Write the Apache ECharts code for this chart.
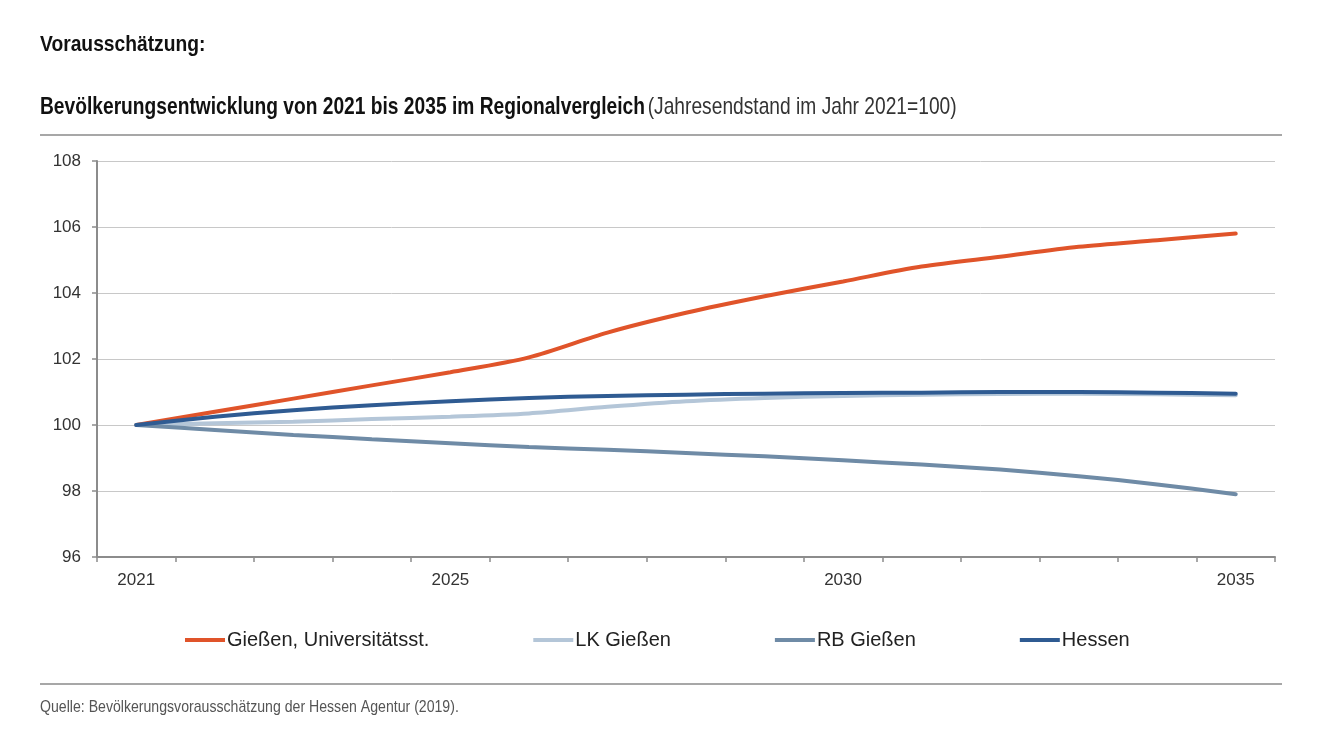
<!DOCTYPE html>
<html><head><meta charset="utf-8">
<script src="https://cdn.jsdelivr.net/npm/echarts@6/dist/echarts.min.js"></script>
<style>html,body{margin:0;padding:0;background:#fff}#c{width:1344px;height:744px}</style>
</head><body><div id="c"></div>
<script>
const years = ['2021','2022','2023','2024','2025','2026','2027','2028','2029','2030','2031','2032','2033','2034','2035'];
const labelYears = ['2021','2025','2030','2035'];
const giessenStadt = [100,100.4,100.8,101.2,101.6,102.05,102.8,103.4,103.9,104.35,104.8,105.1,105.4,105.6,105.8];
const lkGiessen   = [100,100.05,100.1,100.18,100.25,100.35,100.55,100.72,100.82,100.88,100.92,100.94,100.95,100.93,100.9];
const rbGiessen   = [100,99.85,99.7,99.57,99.45,99.33,99.25,99.15,99.05,98.93,98.8,98.65,98.45,98.2,97.9];
const hessen      = [100,100.25,100.45,100.6,100.72,100.82,100.88,100.92,100.95,100.97,100.98,101.0,101.0,100.98,100.95];

const F = '"Liberation Sans", Arial, sans-serif';
const chart = echarts.init(document.getElementById('c'));
function line(name, data, color){
  return {name, type:'line', data, smooth:0.3, symbol:'none', lineStyle:{width:4, color, cap:'round'}, itemStyle:{color}};
}
chart.setOption({
  animation:false,
  backgroundColor:'#fff',
  graphic:[
    {type:'text', x:40, y:45, scaleX:0.875, style:{text:'Vorausschätzung:', font:'bold 22px '+F, fill:'#111', verticalAlign:'middle'}},
    {type:'text', x:40, y:107, scaleX:0.80, style:{
      text:'{b|Bevölkerungsentwicklung von 2021 bis 2035 im Regionalvergleich} {n|(Jahresendstand im Jahr 2021=100)}',
      verticalAlign:'middle',
      rich:{b:{font:'bold 24px '+F, fill:'#111'}, n:{font:'24px '+F, fill:'#333'}}}},
    {type:'line', shape:{x1:40,y1:135,x2:1282,y2:135}, style:{stroke:'#8a8a8a', lineWidth:1.5}},
    {type:'line', shape:{x1:40,y1:684,x2:1282,y2:684}, style:{stroke:'#8a8a8a', lineWidth:1.5}},
    {type:'text', x:40, y:707, scaleX:0.83, style:{text:'Quelle: Bevölkerungsvorausschätzung der Hessen Agentur (2019).', font:'17px '+F, fill:'#555', verticalAlign:'middle'}}
  ],
  grid:{left:97, right:69, top:161, bottom:187},
  legend:{
    top:625, left:180, itemGap:104, itemWidth:40, itemHeight:4, icon:'rect',
    textStyle:{fontFamily:F, fontSize:20, color:'#222', padding:[0,0,0,-3]},
    data:['Gießen, Universitätsst.','LK Gießen','RB Gießen','Hessen']
  },
  xAxis:{
    type:'category', data:years, boundaryGap:true,
    axisLine:{lineStyle:{color:'#8c8c8c', width:2}},
    axisTick:{show:true, length:5, lineStyle:{color:'#8c8c8c', width:1.5}, interval:0},
    axisLabel:{interval:0, margin:15, fontFamily:F, fontSize:17, color:'#333',
      formatter:v=>labelYears.includes(v)?v:''}
  },
  yAxis:{
    type:'value', min:96, max:108, interval:2,
    axisLine:{show:true, lineStyle:{color:'#8c8c8c', width:2}},
    axisTick:{show:true, length:5, lineStyle:{color:'#8c8c8c', width:1.5}},
    axisLabel:{fontFamily:F, fontSize:17, color:'#333', margin:16},
    splitLine:{lineStyle:{color:'#c8c8c8', width:1}}
  },
  series:[
    line('Gießen, Universitätsst.', giessenStadt, '#E0542A'),
    line('LK Gießen', lkGiessen, '#B4C6D8'),
    line('RB Gießen', rbGiessen, '#6F8BA6'),
    line('Hessen', hessen, '#2F5B92')
  ]
});
</script></body></html>
